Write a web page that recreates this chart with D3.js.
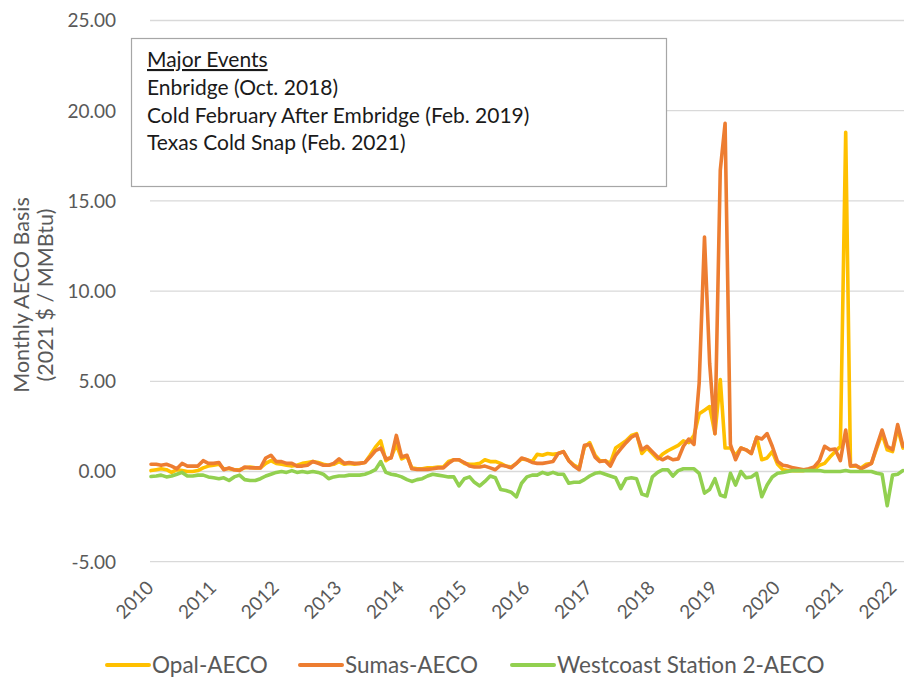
<!DOCTYPE html>
<meta charset="utf-8">
<script src="https://d3js.org/d3.v7.min.js"></script>
<style>
body { margin: 0; background: #fff; }
text { font-family: Lato, "Open Sans", sans-serif; }
</style>
<div id="chart"></div>
<script>
// monthly values, Jan 2010 .. Jan 2022
var startMonth = new Date(2010, 0, 1);
var years = [2010, 2011, 2012, 2013, 2014, 2015, 2016, 2017, 2018, 2019, 2020, 2021, 2022];
var yTicks = [-5, 0, 5, 10, 15, 20, 25];

var opal = [
  0.05, 0.1, 0.15, 0.1, -0.05, 0.1, 0.05, 0.0, 0.0, 0.05, 0.2, 0.3, 0.35, 0.4, 0.15, 0.15, 0.1, 0.1, 0.2, 0.25, 0.2, 0.2, 0.45, 0.6,
  0.45, 0.4, 0.35, 0.3, 0.35, 0.45, 0.5, 0.55, 0.5, 0.4, 0.35, 0.4, 0.55, 0.4, 0.45, 0.4, 0.45, 0.5,
  0.9, 1.35, 1.7, 0.6, 0.8, 1.5, 0.7, 0.85, 0.2,
  0.15, 0.15, 0.2, 0.2, 0.25, 0.25, 0.55, 0.65, 0.65, 0.45, 0.4, 0.4, 0.45, 0.65, 0.55, 0.55, 0.45, 0.3, 0.25, 0.45, 0.7,
  0.65, 0.55, 0.95, 0.9, 1.0, 0.95, 1.0, 1.1, 0.6, 0.35, 0.2, 1.35, 1.6, 0.9, 0.6, 0.6, 0.45, 1.3, 1.5, 1.7, 2.0, 2.1,
  1.0, 1.3, 1.0, 0.7, 0.95, 1.15, 1.3, 1.45, 1.7, 1.6, 2.0,
  3.2, 3.4, 3.6, 2.1, 5.1, 1.3, 1.3, 0.9,
  1.3, 1.2, 1.0, 1.9, 0.65, 0.75, 1.1, 0.4,
  0.1, 0.05, 0.05, 0.05, 0.05, 0.1, 0.1, 0.35, 0.45, 0.8, 1.1, 1.4, 18.8, 0.3, 0.3, 0.2, 0.4, 0.45, 1.3, 2.1, 1.2, 1.1, 2.4, 1.3
];
var sumas = [
  0.4, 0.4, 0.35, 0.4, 0.3, 0.15, 0.45, 0.3, 0.3, 0.3, 0.6, 0.45, 0.45, 0.5, 0.1, 0.2, 0.1, 0.05, 0.25, 0.2, 0.2, 0.2, 0.75, 0.9,
  0.55, 0.55, 0.45, 0.45, 0.3, 0.3, 0.35, 0.55, 0.45, 0.35, 0.35, 0.45, 0.7, 0.45, 0.5, 0.45, 0.45, 0.5,
  0.8, 1.15, 1.3, 0.7, 0.75, 2.0, 0.8, 0.9, 0.15,
  0.12, 0.12, 0.12, 0.15, 0.2, 0.2, 0.45, 0.65, 0.65, 0.5, 0.3, 0.25, 0.25, 0.3, 0.2, 0.1, 0.35, 0.3, 0.2, 0.45, 0.75,
  0.65, 0.5, 0.45, 0.45, 0.5, 0.55, 1.0, 1.1, 0.6, 0.3, 0.1, 1.45, 1.5, 0.8, 0.55, 0.6, 0.3, 0.9, 1.25, 1.6, 1.9, 2.05,
  1.2, 1.4, 1.1, 0.8, 0.65, 0.8, 0.65, 0.7, 1.4, 1.8, 1.5,
  4.9, 13.0, 6.0, 2.1, 16.7, 19.3, 1.5, 0.65,
  1.3, 1.2, 1.0, 1.9, 1.8, 2.1, 1.4, 0.55,
  0.35, 0.3, 0.2, 0.15, 0.1, 0.15, 0.25, 0.6, 1.4, 1.2, 1.25, 0.6, 2.3, 0.3, 0.35, 0.15, 0.3, 0.45, 1.4, 2.3, 1.4, 1.2, 2.6, 1.4
];
var westcoast = [
  -0.28, -0.25, -0.2, -0.3, -0.25, -0.15, -0.05, -0.25, -0.25, -0.2, -0.2, -0.3, -0.35, -0.4, -0.35, -0.5, -0.3, -0.2, -0.45, -0.5, -0.5, -0.4, -0.25, -0.15,
  -0.05, 0.0, -0.05, 0.05, -0.05, 0.0, -0.05, 0.0, -0.05, -0.15, -0.4, -0.3, -0.25, -0.25, -0.2, -0.2, -0.2, -0.15, -0.05, 0.1, 0.55, -0.05, -0.15, -0.2,
  -0.3, -0.45, -0.55, -0.45, -0.4, -0.25, -0.15, -0.2, -0.25, -0.3, -0.3, -0.8, -0.4, -0.3, -0.6, -0.8, -0.55, -0.25, -0.35, -1.0, -1.05, -1.15, -1.4, -0.65,
  -0.3, -0.2, -0.2, -0.05, -0.15, -0.05, -0.15, -0.15, -0.65, -0.6, -0.6, -0.45, -0.25, -0.1, -0.05, -0.15, -0.25, -0.35, -0.95, -0.4, -0.35, -0.4, -1.25, -1.35, -0.3,
  -0.05, 0.1, 0.1, -0.25, 0.05, 0.15, 0.15, 0.15, -0.1, -1.2, -1.0, -0.4, -1.3, -1.4, -0.1, -0.75, 0.0, -0.35, -0.3, -0.1, -1.4, -0.75, -0.3, -0.1,
  -0.05, 0.0, 0.05, 0.05, 0.05, 0.05, 0.05, 0.05, 0.0, 0.0, 0.0, 0.0, 0.05, 0.0, 0.0, 0.0, 0.0, 0.0, -0.1, -0.15, -1.9, -0.2, -0.15, 0.05
];

var seriesNames = ["Opal-AECO", "Sumas-AECO", "Westcoast Station 2-AECO"];
var seriesColors = ["#FFC000", "#ED7D31", "#92D050"];
var events = ["Enbridge (Oct. 2018)", "Cold February After Embridge (Feb. 2019)", "Texas Cold Snap (Feb. 2021)"];

var W = 904, H = 681;
var svg = d3.select("#chart").append("svg").attr("width", W).attr("height", H);

var x = d3.scaleTime().domain([startMonth, new Date(2022, 0, 1)]).range([151, 903]);
var y = d3.scaleLinear().domain([-5, 25]).range([561.7, 20.5]);

// gridlines
svg.append("g").selectAll("line").data(yTicks).enter().append("line")
  .attr("x1", 150).attr("x2", 904)
  .attr("y1", function(d) { return y(d); }).attr("y2", function(d) { return y(d); })
  .attr("stroke", "#d9d9d9").attr("stroke-width", 1.3);

// y labels (hyphen minus like excel)
svg.append("g").selectAll("text").data(yTicks).enter().append("text")
  .attr("x", 116).attr("y", function(d) { return y(d); }).attr("dy", "0.36em")
  .attr("text-anchor", "end").attr("fill", "#595959").style("font-size", "19px")
  .text(function(d) { return d.toFixed(2); });

// x labels, last one nudged in so it isn't clipped
svg.append("g").selectAll("text").data(years).enter().append("text")
  .attr("transform", function(d) {
    var px = Math.min(x(new Date(d, 0, 1)) - 1, 893);
    return "translate(" + px + ",584) rotate(-45)";
  })
  .attr("dy", "0.36em").attr("text-anchor", "end").attr("fill", "#595959").style("font-size", "19px")
  .text(function(d) { return d; });

// y title
var yt = svg.append("text").attr("transform", "translate(0,295) rotate(-90)")
  .attr("text-anchor", "middle").attr("fill", "#595959").style("font-size", "21.5px");
yt.append("tspan").attr("x", 0).attr("y", 29).text("Monthly AECO Basis");
yt.append("tspan").attr("x", 0).attr("y", 53).text("(2021 $ / MMBtu)");

// lines
var line = d3.line()
  .x(function(d, i) { return x(d3.timeMonth.offset(startMonth, i)); })
  .y(function(d) { return y(d); });

[opal, sumas, westcoast].forEach(function(s, k) {
  svg.append("path").datum(s).attr("d", line)
    .attr("fill", "none").attr("stroke", seriesColors[k])
    .attr("stroke-width", 3.6).attr("stroke-linejoin", "round").attr("stroke-linecap", "round");
});

// event box
svg.append("rect").attr("x", 131.5).attr("y", 38.5).attr("width", 535).attr("height", 148)
  .attr("fill", "#fff").attr("stroke", "#a6a6a6").attr("stroke-width", 1.2);
svg.append("text").attr("x", 147).attr("y", 67).attr("fill", "#1a1a1a").style("font-size", "21px")
  .style("text-decoration", "underline").text("Major Events");
svg.append("g").selectAll("text").data(events).enter().append("text")
  .attr("x", 147).attr("y", function(d, i) { return 95 + i * 27.5; })
  .attr("fill", "#1a1a1a").style("font-size", "21px")
  .text(function(d) { return d; });

// legend
var legX = [107, 300, 512];
var leg = svg.append("g").selectAll("g").data(seriesNames).enter().append("g")
  .attr("transform", function(d, i) { return "translate(" + legX[i] + ",665)"; });
leg.append("line").attr("x1", 0).attr("x2", 42).attr("y1", 0).attr("y2", 0)
  .attr("stroke", function(d, i) { return seriesColors[i]; }).attr("stroke-width", 4).attr("stroke-linecap", "round");
leg.append("text").attr("x", 45).attr("dy", "0.36em").attr("fill", "#595959").style("font-size", "22.5px")
  .text(function(d) { return d; });
</script>
